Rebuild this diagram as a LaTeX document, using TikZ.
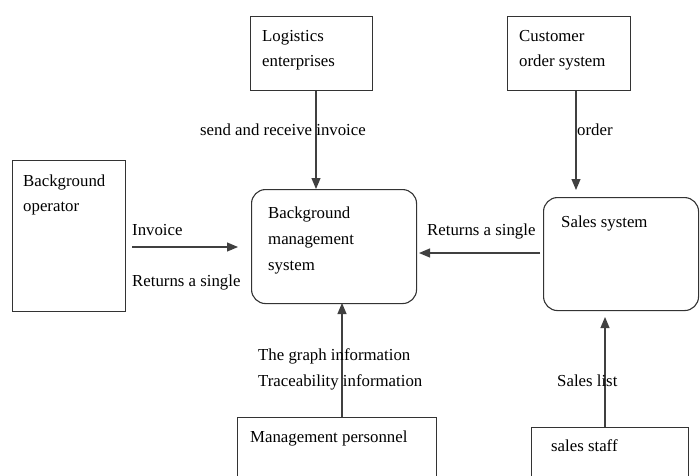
\documentclass[tikz,border=0pt]{standalone}
\usepackage{fontspec}
\setmainfont{Liberation Serif}
\usetikzlibrary{arrows.meta}
\begin{document}
\begin{tikzpicture}[x=1pt,y=-1pt,
  box/.style={draw=black!80, line width=1.1pt, inner sep=0pt, anchor=north west},
  rbox/.style={box, rounded corners=14pt},
  lbl/.style={anchor=base west, inner sep=0pt, font=\fontsize{16.8}{26}\selectfont},
  flow/.style={draw=black!75, line width=1.1pt, -{Triangle[length=11pt,width=9pt]}}]
\useasboundingbox (0,0) rectangle (700,475);
\clip (0,0) rectangle (700,475);
% boxes
\node[box, minimum width=113pt, minimum height=151pt] (op) at (12,160) {};
\node[box, minimum width=122pt, minimum height=74pt] (log) at (250,16) {};
\node[box, minimum width=123pt, minimum height=74pt] (cust) at (507,16) {};
\node[rbox, minimum width=165pt, minimum height=114pt] (bms) at (251,189) {};
\node[rbox, minimum width=155pt, minimum height=113pt] (sales) at (543,197) {};
\node[box, minimum width=199pt, minimum height=80pt] (mgmt) at (237,417) {};
\node[box, minimum width=157pt, minimum height=70pt] (staff) at (531,427) {};
% box texts
\node[lbl] (t1) at (23,186) {Background};
\node[lbl] (t2) at (23,211) {operator};
\node[lbl] (t3) at (262,41) {Logistics};
\node[lbl] (t4) at (262,66) {enterprises};
\node[lbl] (t5) at (519,41) {Customer};
\node[lbl] (t6) at (519,66) {order system};
\node[lbl] (t7) at (268,218) {Background};
\node[lbl] (t8) at (268,244) {management};
\node[lbl] (t9) at (268,270) {system};
\node[lbl] (t10) at (561,227) {Sales system};
\node[lbl] (t11) at (250,442) {Management personnel};
\node[lbl] (t12) at (551,451) {sales staff};
% connector end points
\coordinate (a1) at (132,247);
\coordinate (a2) at (238,247);
\coordinate (s1) at (540,253);
\coordinate (s2) at (419,253);
% connectors
\draw[flow] (log.south -| 316,0) -- (316,189);
\draw[flow] (cust.south -| 576,0) -- (576,190);
\draw[flow] (a1) -- (a2);
\draw[flow] (s1) -- (s2);
\draw[flow] (mgmt.north -| 342,0) -- (342,303);
\draw[flow] (staff.north -| 605,0) -- (605,317);
% connector labels
\node[lbl] (l1) at (200,135) {send and receive invoice};
\node[lbl] (l2) at (577,135) {order};
\node[lbl] (l3) at (132,235) {Invoice};
\node[lbl] (l4) at (132,286) {Returns a single};
\node[lbl] (l5) at (427,235) {Returns a single};
\node[lbl] (l6) at (258,360) {The graph information};
\node[lbl] (l7) at (258,386) {Traceability information};
\node[lbl] (l8) at (557,386) {Sales list};
\end{tikzpicture}
\end{document}
